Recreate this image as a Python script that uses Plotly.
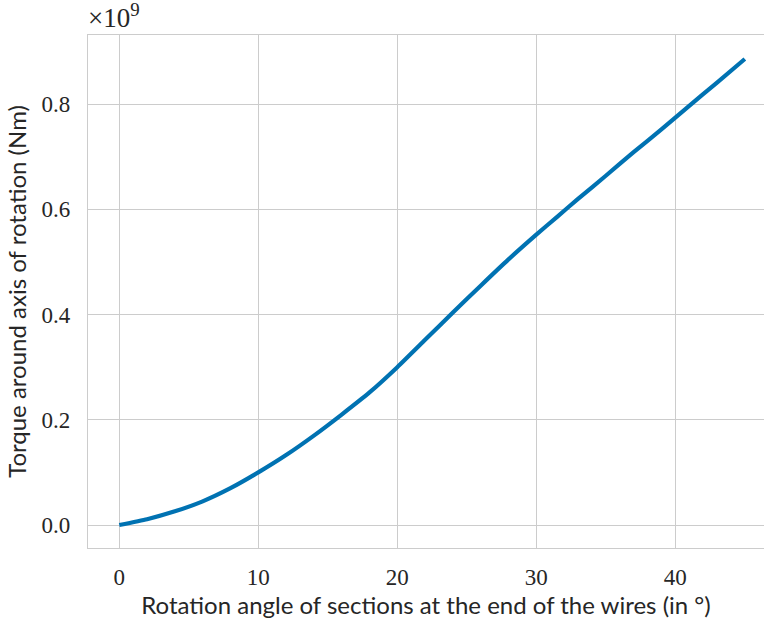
import plotly.graph_objects as go

angle_deg = [0, 2, 4, 6, 8, 10, 12, 14, 16, 18, 20, 22, 24, 26, 28, 30, 31.5, 33, 35, 37, 39, 41, 43, 45]
torque_e9 = [0.0, 0.011, 0.026, 0.045, 0.070, 0.100, 0.133, 0.170, 0.210, 0.252, 0.300, 0.352,
             0.404, 0.455, 0.505, 0.552, 0.586, 0.620, 0.664, 0.709, 0.752, 0.797, 0.841, 0.886]
x_ticks = [0, 10, 20, 30, 40]
y_ticks = [0.0, 0.2, 0.4, 0.6, 0.8]
y_tick_labels = ["0.0", "0.2", "0.4", "0.6", "0.8"]

grid = "#cccccc"
serif = "Liberation Serif"
sans = "Lato"

fig = go.Figure()
fig.add_trace(go.Scatter(x=angle_deg, y=torque_e9, mode="lines",
                         line=dict(color="#0072b2", width=4.2, shape="spline", smoothing=0.5),
                         hoverinfo="skip", showlegend=False))

fig.update_layout(
    width=764, height=621,
    margin=dict(l=88, r=0, t=35, b=73),
    paper_bgcolor="white", plot_bgcolor="white",
    xaxis=dict(range=[-2.25, 46.38], tickvals=x_ticks, ticktext=[str(v) for v in x_ticks],
               showgrid=True, gridcolor=grid, gridwidth=1.3, zeroline=False,
               showline=True, linecolor=grid, linewidth=1.3, mirror=True,
               ticks="", ticklabelstandoff=8,
               tickfont=dict(family=serif, size=23, color="#262626"),
               title=dict(text="Rotation angle of sections at the end of the wires (in °)",
                          font=dict(family=sans, size=24, color="#262626"), standoff=2)),
    yaxis=dict(range=[-0.0437, 0.9316], tickvals=y_ticks, ticktext=y_tick_labels,
               showgrid=True, gridcolor=grid, gridwidth=1.3, zeroline=False,
               showline=True, linecolor=grid, linewidth=1.3,
               ticks="", ticklabelstandoff=12,
               tickfont=dict(family=serif, size=23, color="#262626"),
               title=dict(text="Torque around axis of rotation (Nm)",
                          font=dict(family=sans, size=24, color="#262626"), standoff=8)),
    annotations=[dict(text="×10<sup>9</sup>", xref="paper", yref="paper", x=0, y=1,
                      xanchor="left", yanchor="bottom", showarrow=False, xshift=-2, yshift=0,
                      font=dict(family=serif, size=27, color="#262626"))],
)

fig.write_html("out.html")
